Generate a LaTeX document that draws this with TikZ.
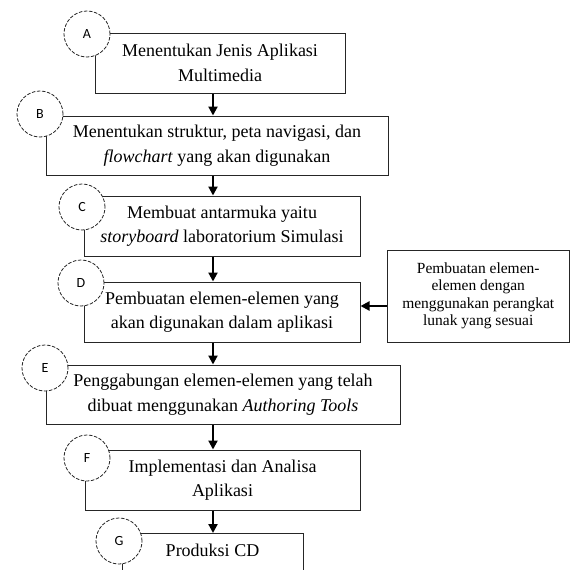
\documentclass[tikz,border=0pt]{standalone}
\usepackage{fontspec}
\setmainfont{Liberation Serif}
\newfontfamily\lblfont{Carlito}
\usetikzlibrary{arrows.meta}
\tikzset{
  box/.style={draw=black!85, line width=1pt, fill=white, align=center, inner sep=0pt,
    font=\fontsize{18}{24.5}\selectfont},
  sidebox/.style={draw=black!85, line width=1pt, align=center, inner sep=0pt,
    font=\fontsize{15.5}{17.5}\selectfont},
  tag/.style={circle, draw=black!85, line width=0.8pt, dash pattern=on 3.5pt off 1.6pt,
    fill=white, minimum size=46pt, inner sep=0pt, font=\lblfont\fontsize{14}{14}\selectfont},
  arr/.style={line width=2.2pt, -{Triangle[width=9pt,length=9pt]}},
}
\begin{document}
\begin{tikzpicture}[x=1pt,y=-1pt]
\useasboundingbox (0,0) rectangle (571,570);
% boxes
\node[box, minimum width=250pt, minimum height=60pt] (A) at (220,63) {Menentukan Jenis Aplikasi\\Multimedia};
\node[box, minimum width=342pt, minimum height=59pt] (B) at (217,145.5) {Menentukan struktur, peta navigasi, dan\\\textit{flowchart} yang akan digunakan};
\node[box, minimum width=276pt, minimum height=60pt] (C) at (222,226) {Membuat antarmuka yaitu\\\textit{storyboard} laboratorium Simulasi};
\node[box, minimum width=276pt, minimum height=60pt] (D) at (222,312) {Pembuatan elemen-elemen yang\\akan digunakan dalam aplikasi};
\node[box, minimum width=354pt, minimum height=59pt] (E) at (223,394.5) {Penggabungan elemen-elemen yang telah\\dibuat menggunakan \textit{Authoring Tools}};
\node[box, minimum width=275pt, minimum height=60pt] (F) at (222.5,480) {Implementasi dan Analisa\\Aplikasi};
\node[box, minimum width=181pt, text height=23pt, text depth=40pt, anchor=north] (G) at (212.5,533) {Produksi CD};
\node[sidebox, minimum width=182.5pt, minimum height=92pt] (S) at (478.25,296) {Pembuatan elemen-\\elemen dengan\\menggunakan perangkat\\lunak yang sesuai};
% tags
\node[tag] (cA) at (87,34) {A};
\node[tag] (cB) at (40,114) {B};
\node[tag] (cC) at (82,207) {C};
\node[tag] (cD) at (81,283) {D};
\node[tag] (cE) at (45,368) {E};
\node[tag] (cF) at (87,458) {F};
\node[tag] (cG) at (119,541) {G};
% arrows
\coordinate (ax) at (213,0);
\coordinate (sy) at (0,306);
\draw[arr] (A.south -| ax) -- (B.north -| ax);
\draw[arr] (B.south -| ax) -- (C.north -| ax);
\draw[arr] (C.south -| ax) -- (D.north -| ax);
\draw[arr] (D.south -| ax) -- (E.north -| ax);
\draw[arr] (E.south -| ax) -- (F.north -| ax);
\draw[arr] (F.south -| ax) -- (G.north -| ax);
\draw[arr] (S.west |- sy) -- (D.east |- sy);
\end{tikzpicture}
\end{document}
